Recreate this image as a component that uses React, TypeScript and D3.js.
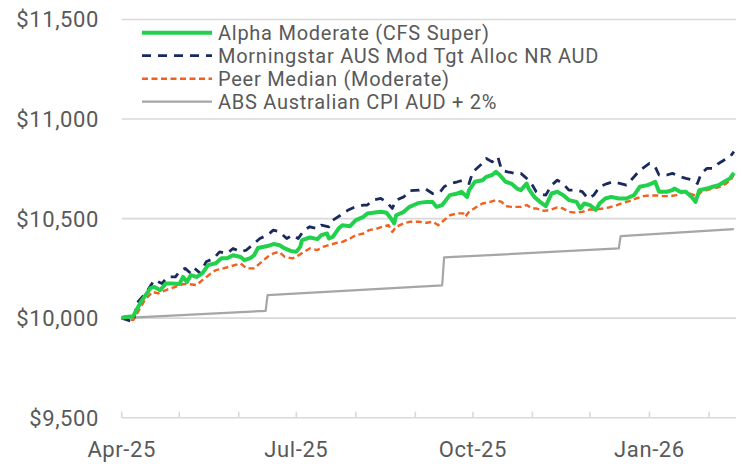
import React from 'react';
import * as d3 from 'd3';

// values; first number = days after 1 Apr 2025
const alphaModerate: [number, number][] = [
  [0, 10000], [1, 10004], [6, 10010], [10, 10082], [15, 10151], [17, 10157], [20, 10140], [23, 10174],
  [26, 10174], [30, 10171], [32, 10207], [34, 10182], [36, 10216], [39, 10207], [42, 10225], [45, 10266],
  [49, 10276], [52, 10301], [55, 10301], [58, 10316], [62, 10307], [64, 10291], [67, 10301], [69, 10316],
  [71, 10352], [76, 10362], [79, 10372], [82, 10367], [85, 10350], [88, 10338], [91, 10333], [93, 10358],
  [94, 10392], [98, 10405], [102, 10397], [104, 10417], [107, 10425], [108, 10400], [110, 10408], [113, 10450],
  [115, 10467], [119, 10462], [122, 10492], [126, 10509], [128, 10526], [131, 10529], [135, 10534], [138, 10529],
  [141, 10492], [142, 10476], [143, 10517], [147, 10534], [150, 10559], [154, 10576], [155, 10579], [159, 10584],
  [162, 10584], [164, 10559], [167, 10568], [171, 10618], [175, 10626], [177, 10635], [180, 10609], [181, 10643],
  [184, 10685], [188, 10693], [190, 10710], [193, 10719], [195, 10735], [197, 10719], [200, 10685], [203, 10676],
  [206, 10651], [208, 10643], [211, 10676], [212, 10651], [215, 10609], [218, 10584], [221, 10563], [224, 10626],
  [227, 10635], [230, 10618], [233, 10593], [237, 10584], [239, 10551], [241, 10576], [244, 10568], [247, 10543],
  [249, 10576], [252, 10601], [255, 10609], [259, 10601], [263, 10601], [267, 10618], [270, 10660], [274, 10668],
  [276, 10676], [278, 10685], [280, 10635], [284, 10635], [287, 10643], [288, 10651], [291, 10635], [294, 10635],
  [297, 10609], [299, 10584], [301, 10643], [305, 10651], [308, 10660], [311, 10668], [314, 10685], [317, 10702],
  [319, 10730],
];

const morningstarMod: [number, number][] = [
  [0, 10000], [6, 9982], [8, 10077], [13, 10132], [17, 10191], [21, 10174], [24, 10207], [28, 10207],
  [30, 10233], [33, 10250], [36, 10225], [38, 10250], [41, 10225], [44, 10283], [48, 10300], [51, 10333],
  [55, 10325], [58, 10350], [62, 10333], [65, 10342], [69, 10375], [72, 10400], [76, 10417], [79, 10442],
  [82, 10434], [86, 10400], [89, 10417], [92, 10400], [95, 10442], [98, 10459], [102, 10450], [104, 10467],
  [108, 10459], [110, 10492], [114, 10517], [118, 10543], [121, 10556], [126, 10568], [128, 10568], [131, 10593],
  [135, 10601], [138, 10584], [141, 10551], [143, 10593], [147, 10609], [150, 10640], [155, 10643], [158, 10651],
  [162, 10626], [166, 10634], [168, 10660], [171, 10676], [175, 10685], [178, 10693], [181, 10676], [183, 10735],
  [187, 10769], [190, 10802], [193, 10785], [196, 10810], [198, 10743], [201, 10735], [205, 10727], [208, 10727],
  [211, 10702], [214, 10668], [216, 10635], [217, 10626], [221, 10618], [224, 10668], [227, 10693], [230, 10676],
  [233, 10643], [237, 10643], [240, 10635], [243, 10601], [246, 10618], [249, 10660], [253, 10676], [256, 10685],
  [260, 10676], [263, 10668], [267, 10710], [270, 10743], [275, 10777], [278, 10760], [280, 10719], [284, 10719],
  [287, 10727], [291, 10710], [294, 10702], [298, 10693], [300, 10676], [302, 10727], [305, 10752], [308, 10752],
  [311, 10777], [314, 10794], [317, 10810], [319, 10836],
];

const peerMedian: [number, number][] = [
  [0, 10000], [6, 9990], [10, 10057], [12, 10090], [16, 10132], [19, 10124], [23, 10141], [28, 10157],
  [32, 10171], [35, 10171], [39, 10166], [43, 10199], [46, 10221], [49, 10241], [53, 10250], [57, 10261],
  [62, 10275], [65, 10250], [69, 10250], [72, 10275], [76, 10308], [79, 10325], [82, 10333], [85, 10308],
  [89, 10300], [91, 10308], [95, 10333], [98, 10350], [102, 10342], [105, 10358], [108, 10367], [112, 10378],
  [115, 10383], [119, 10400], [122, 10417], [126, 10425], [129, 10442], [133, 10450], [136, 10459], [139, 10467],
  [141, 10433], [143, 10459], [147, 10476], [150, 10484], [155, 10484], [159, 10479], [162, 10484], [165, 10467],
  [168, 10492], [171, 10517], [175, 10526], [178, 10526], [179, 10509], [181, 10534], [185, 10559], [188, 10576],
  [192, 10584], [195, 10593], [198, 10584], [200, 10563], [203, 10559], [208, 10559], [211, 10568], [214, 10551],
  [216, 10551], [220, 10539], [223, 10543], [227, 10556], [230, 10551], [233, 10534], [237, 10529], [240, 10534],
  [244, 10546], [247, 10546], [251, 10551], [254, 10556], [258, 10568], [261, 10579], [265, 10589], [268, 10601],
  [272, 10613], [275, 10616], [279, 10616], [282, 10613], [286, 10613], [289, 10618], [293, 10635], [296, 10626],
  [300, 10613], [302, 10635], [305, 10643], [308, 10651], [312, 10660], [315, 10676], [318, 10702], [319, 10727],
];

const cpiPlus2: [number, number][] = [
  [0, 10000], [75, 10037], [76, 10116], [167, 10165], [168, 10305], [259, 10350], [260, 10412], [319, 10447],
];

const yTicks = [9500, 10000, 10500, 11000, 11500];
const labelMonths = [0, 3, 6, 9]; // Apr, Jul, Oct, Jan

const series = [
  { name: 'Alpha Moderate (CFS Super)', data: alphaModerate, color: '#22d14b', width: 4, dash: '' },
  { name: 'Morningstar AUS Mod Tgt Alloc NR AUD', data: morningstarMod, color: '#1b2a5c', width: 2.8, dash: '9,7' },
  { name: 'Peer Median (Moderate)', data: peerMedian, color: '#f2601f', width: 2.4, dash: '6,3.5' },
  { name: 'ABS Australian CPI AUD + 2%', data: cpiPlus2, color: '#a6a6a6', width: 2.2, dash: '' },
];

const start = new Date(2025, 3, 1);
const end = new Date(2026, 1, 15);

export default function App() {
  const width = 742;
  const height = 464;
  const x = d3.scaleTime().domain([start, end]).range([121.7, 735.8]);
  const y = d3.scaleLinear().domain([9500, 11500]).range([417.7, 19.5]);

  const line = d3
    .line<[number, number]>()
    .x((d) => x(d3.timeDay.offset(start, d[0])))
    .y((d) => y(d[1]));

  const months = d3.timeMonth.range(start, end);
  const fmt = d3.timeFormat('%b-%y');
  const font = 'Roboto, sans-serif';

  return (
    <svg
      width={width}
      height={height}
      style={{ position: 'absolute', left: 0, top: 0, background: '#fff' }}
    >
      {yTicks.map((t) => (
        <g key={t}>
          <line x1={121.7} x2={736} y1={y(t)} y2={y(t)} stroke="#d9d9d9" strokeWidth={1.6} />
          <text
            x={99}
            y={y(t)}
            dy="0.36em"
            textAnchor="end"
            fontFamily={font}
            fontSize={22}
            letterSpacing={0.6}
            fill="#595959"
          >
            {d3.format('$,')(t)}
          </text>
        </g>
      ))}
      {months.map((m, i) => (
        <line key={i} x1={x(m)} x2={x(m)} y1={y(9500) - 6} y2={y(9500)} stroke="#d9d9d9" strokeWidth={1.6} />
      ))}
      {labelMonths.map((i) => (
        <text
          key={i}
          x={x(months[i])}
          y={457}
          textAnchor="middle"
          fontFamily={font}
          fontSize={22}
          letterSpacing={0.6}
          fill="#595959"
        >
          {fmt(months[i])}
        </text>
      ))}
      {[...series].reverse().map((s) => (
        <path
          key={s.name}
          d={line(s.data) || ''}
          fill="none"
          stroke={s.color}
          strokeWidth={s.width}
          strokeDasharray={s.dash || undefined}
          strokeLinejoin="round"
        />
      ))}
      {series.map((s, i) => {
        const ly = 32.7 + i * 23;
        return (
          <g key={s.name}>
            <line x1={142} x2={212} y1={ly} y2={ly} stroke={s.color} strokeWidth={s.width} strokeDasharray={s.dash || undefined} />
            <text x={218} y={ly} dy="0.36em" fontFamily={font} fontSize={20} letterSpacing={0.74} fill="#595959">
              {s.name}
            </text>
          </g>
        );
      })}
    </svg>
  );
}
